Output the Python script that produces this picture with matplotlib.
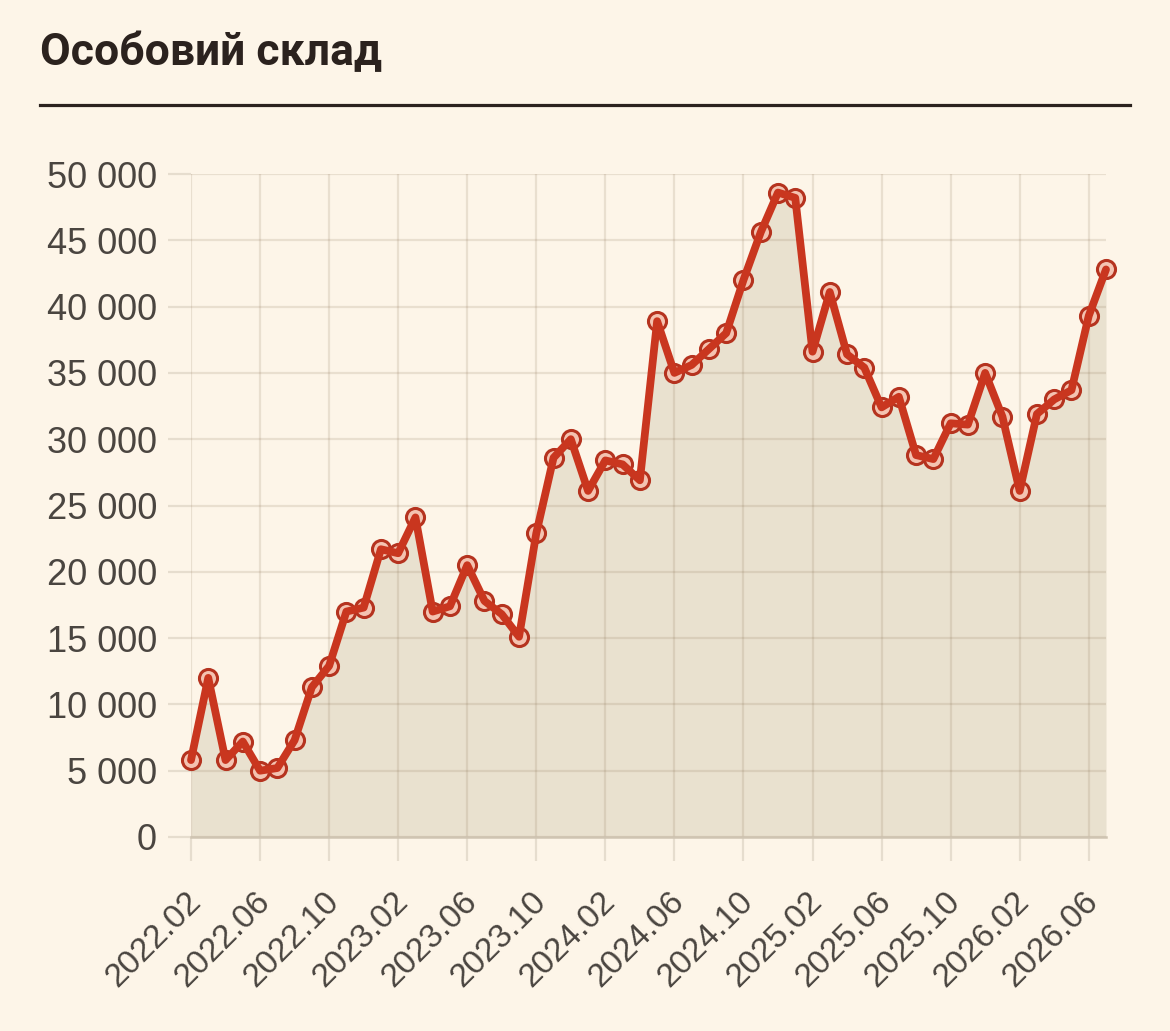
import matplotlib
matplotlib.use("Agg")
import matplotlib.pyplot as plt
from matplotlib.lines import Line2D
import matplotlib.transforms as mtransforms
import numpy as np

# ---- data ----
start_year, start_month = 2022, 2
n_months = 54
months = []
y, m = start_year, start_month
for _ in range(n_months):
    months.append(f"{y}.{m:02d}")
    m += 1
    if m > 12:
        m = 1
        y += 1

personnel = [
    5800, 12000, 5800, 7200, 5000, 5200, 7300, 11300, 12900, 17000,
    17300, 21700, 21400, 24100, 17000, 17400, 20500, 17800, 16800, 15100,
    22900, 28600, 30000, 26100, 28400, 28100, 26900, 38900, 35000, 35600,
    36800, 38000, 42000, 45600, 48600, 48200, 36600, 41100, 36400, 35400,
    32400, 33200, 28800, 28500, 31200, 31100, 35000, 31700, 26100, 31900,
    33000, 33700, 39300, 42800,
]

title = "Особовий склад"
y_ticks = [0, 5000, 10000, 15000, 20000, 25000, 30000, 35000, 40000, 45000, 50000]
x_tick_step = 4

# ---- style ----
BG = "#FDF5E8"
FILL = "#E9E1CF"
LINE = "#C9361F"
EDGE = "#B5331F"
FACE = "#F4C3B1"
TEXT = "#4A4540"
TITLE = "#2B221E"

W, H = 1170, 1031
fig = plt.figure(figsize=(W / 100, H / 100), dpi=100, facecolor=BG)
ax = fig.add_axes([191 / W, 1 - 837 / H, (1106 - 191) / W, (837 - 174) / H])
ax.set_facecolor(BG)

x = np.arange(len(personnel))
ax.fill_between(x, 0, personnel, color=FILL, zorder=0.4, linewidth=0)
ax.plot(x, personnel, linestyle="none", marker="o", markersize=13,
        markerfacecolor=FACE, markeredgecolor=EDGE, markeredgewidth=2.2,
        zorder=2, clip_on=False)
ax.plot(x, personnel, color=LINE, linewidth=5.6, solid_joinstyle="round",
        solid_capstyle="round", zorder=3, clip_on=False)

ax.set_xlim(0, len(personnel) - 1)
ax.set_ylim(0, 50000)
ax.set_yticks(y_ticks)
ax.set_yticklabels([f"{v:,}".replace(",", " ") for v in y_ticks])
tick_idx = list(range(0, len(months), x_tick_step))
ax.set_xticks(tick_idx)
ax.set_xticklabels([months[i] for i in tick_idx], rotation=45, ha="right",
                   va="top", rotation_mode="anchor")

ax.set_axisbelow(True)
ax.grid(True, color="#8B7355", alpha=0.17, linewidth=1.6)
for s in ["top", "right", "left"]:
    ax.spines[s].set_visible(False)
ax.spines["bottom"].set_color("#CFC4B2")
ax.spines["bottom"].set_linewidth(1.8)
ax.spines["bottom"].set_zorder(1)

ax.tick_params(axis="y", length=16.5, width=1.6, color="#E6DDCE",
               labelsize=26, labelcolor=TEXT, pad=8)
ax.tick_params(axis="x", length=17.3, width=1.6, color="#E6DDCE",
               labelsize=24, labelcolor=TEXT, pad=12)
offset = mtransforms.ScaledTranslation(-6 / 100, -8 / 100, fig.dpi_scale_trans)
for lab in ax.get_xticklabels():
    lab.set_transform(lab.get_transform() + offset)
for lab in ax.get_xticklabels() + ax.get_yticklabels():
    lab.set_fontfamily(["Liberation Sans", "DejaVu Sans"])

fig.text(40 / W, 1 - 53 / H, title, fontsize=32, fontweight="bold",
         color=TITLE, va="center", ha="left", family=["Roboto", "DejaVu Sans"])
fig.add_artist(Line2D([40 / W, 1130 / W], [1 - 105 / H, 1 - 105 / H],
                      color=TITLE, linewidth=2.3, transform=fig.transFigure))

fig.savefig("out.png", dpi=100, facecolor=BG)
